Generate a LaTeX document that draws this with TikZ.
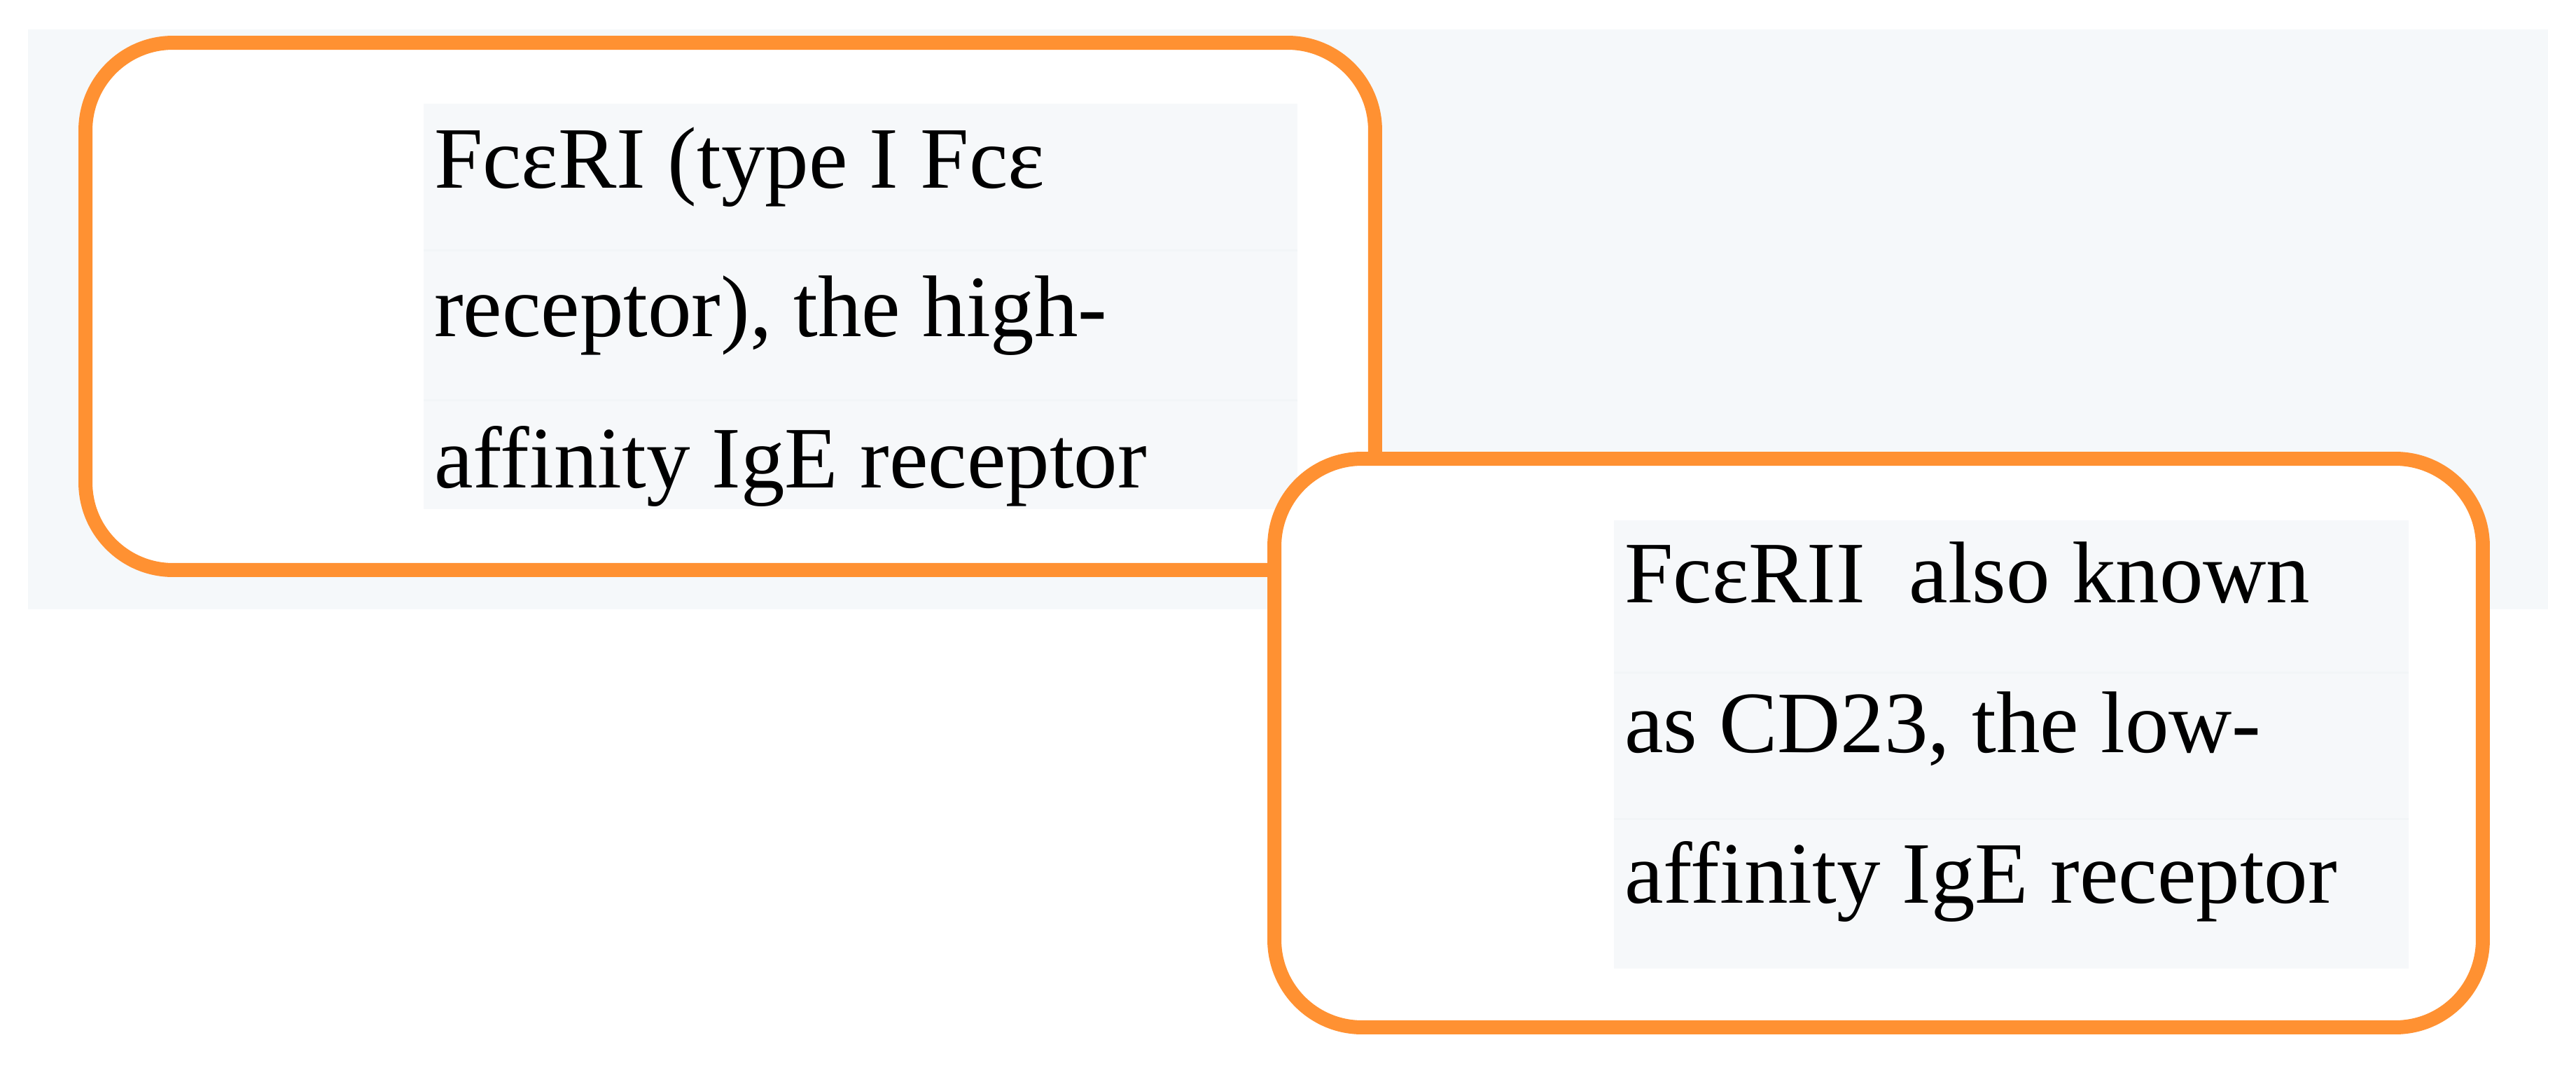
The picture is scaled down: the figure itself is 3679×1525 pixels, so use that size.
\documentclass[tikz,border=0pt]{standalone}
\usepackage{fontspec}
\setmainfont{Liberation Serif}
\definecolor{bgc}{RGB}{245,248,250}
\definecolor{rowc}{RGB}{246,248,250}
\definecolor{rowline}{RGB}{242,245,247}
\definecolor{orng}{RGB}{255,145,50}
\begin{document}
\begin{tikzpicture}[x=0.1pt,y=-0.1pt,
  card/.style={draw=orng, line width=2pt, fill=white, rounded corners=12.5pt, inner sep=0pt, outer sep=0pt},
  rowbg/.style={fill=rowc},
  rowsep/.style={draw=rowline, line width=0.3pt},
  txt/.style={anchor=base west, inner sep=0pt, outer sep=0pt, font=\fontsize{12.5pt}{21.4pt}\selectfont}]
\useasboundingbox (0,0) rectangle (3679,1525);
\fill[white] (0,0) rectangle (3679,1525);
\fill[bgc] (40,42) rectangle (3639,870);
% box 1
\node[card, minimum width=184.2pt, minimum height=75.3pt] (box1) at (1043,437.5) {};
\fill[rowbg] (605,148) rectangle (1853,727);
\draw[rowsep] (605,357) -- (1853,357);
\draw[rowsep] (605,571) -- (1853,571);
\node[txt] (t1a) at (620,268) {FcεRI (type I Fcε};
\node[txt] (t1b) at (620,480) {receptor), the high-};
\node[txt] (t1c) at (620,696) {affinity IgE receptor};
% box 2
\node[card, minimum width=172.6pt, minimum height=81.2pt] (box2) at (2683,1061) {};
\fill[rowbg] (2305,743) rectangle (3440,1383);
\draw[rowsep] (2305,960) -- (3440,960);
\draw[rowsep] (2305,1169) -- (3440,1169);
\node[txt] (t2a) at (2320,860) {FcεRII\ \ also known};
\node[txt] (t2b) at (2320,1074) {as CD23, the low-};
\node[txt] (t2c) at (2320,1289) {affinity IgE receptor};
\end{tikzpicture}
\end{document}
